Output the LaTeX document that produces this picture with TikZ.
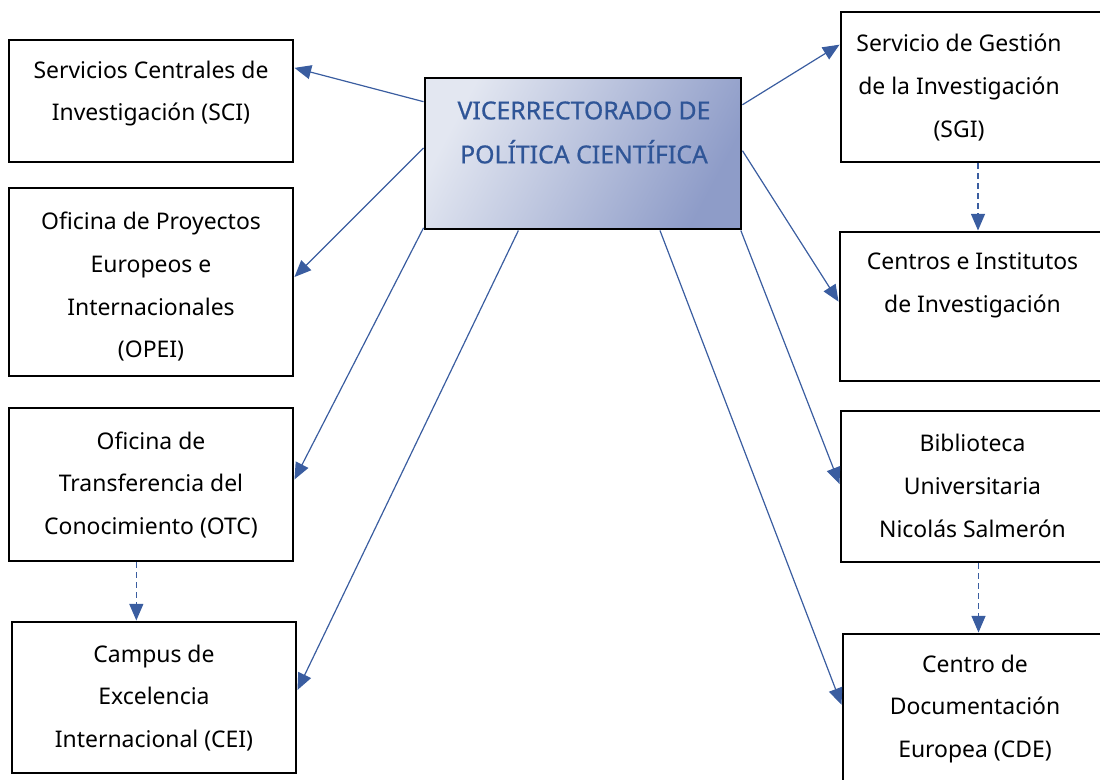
\documentclass[tikz,border=0pt]{standalone}
\usepackage{fontspec}
\setmainfont{Noto Sans}
\newfontfamily\vicfont[FakeBold=0.7]{Noto Sans}
\usetikzlibrary{arrows.meta,fit}
\definecolor{vicblue}{HTML}{2F5597}
\definecolor{arrblue}{HTML}{3A5DA0}
\definecolor{shadelight}{HTML}{E3E7F1}
\definecolor{shadedark}{HTML}{8E9CC8}
\tikzset{box/.style={draw,line width=2.2pt,inner sep=0pt},txt/.style={align=center,font=\fontsize{17.2}{32}\selectfont},
arr/.style={draw=arrblue,line width=0.9pt,-{Triangle[length=12.5pt,width=10.5pt]}},dasharr/.style={arr,dash pattern=on 4.5pt off 3pt}}

\begin{document}
\begin{tikzpicture}[x=0.75pt,y=-0.75pt]
\useasboundingbox(0,0)rectangle(1100,780);
% left column
\node[box,fit={(9,40)(293,162)}](sci){};\node[box,fit={(9,188)(293,376)}](opei){};
\node[box,fit={(9,408)(293,561)}](otc){};\node[box,fit={(12,622)(296,773)}](cei){};
% right column, cut by the page edge
\node[box,fit={(841,12)(1115,162)}](sgi){};\node[box,fit={(840,232)(1116,381)}](cen){};
\node[box,fit={(841,411)(1116,562)}](bib){};\node[box,fit={(843,634)(1116,790)}](cde){};
% centre
\node[box,fit={(425,78)(741,229)},left color=shadelight,right color=shadedark,shading angle=62](vic){};
\node[txt,font=\vicfont\fontsize{18.6}{33}\selectfont,text=vicblue](vicT)at(584,132.5){VICERRECTORADO DE\\POLÍTICA CIENTÍFICA};
\node[txt](sciT)at(151,93.5){Servicios Centrales de\\Investigación (SCI)};
\node[txt](opeiT)at(151,287){Oficina de Proyectos\\Europeos e\\Internacionales\\(OPEI)};
\node[txt](otcT)at(151,485){Oficina de\\Transferencia del\\Conocimiento (OTC)};
\node[txt](ceiT)at(154,698){Campus de\\Excelencia\\Internacional (CEI)};
\node[txt](sgiT)at(959,87.5){Servicio de Gestión\\de la Investigación\\(SGI)};
\node[txt](cenT)at(972.5,285){Centros e Institutos\\de Investigación};
\node[txt](bibT)at(972.5,486){Biblioteca\\Universitaria\\Nicolás Salmerón};
\node[txt](cdeT)at(975,709){Centro de\\Documentación\\Europea (CDE)};
\foreach\a/\n/\b in{162.6/sci/13.1,178.7/opei/2,205.5/otc/2.4,230.2/cei/3,17.4/sgi/163.3,1.3/cen/178.5,334.5/bib/179.4,315.6/cde/177}
\draw[arr](vic.\a)--(\n.\b);
\draw[dasharr]([xshift=-11pt]otc.south)--([xshift=-11pt]otc.south|-cei.north);
\draw[dasharr](sgi.south)--(sgi.south|-cen.north);
\draw[dasharr](bib.south)--(bib.south|-cde.north);
\end{tikzpicture}
\end{document}
